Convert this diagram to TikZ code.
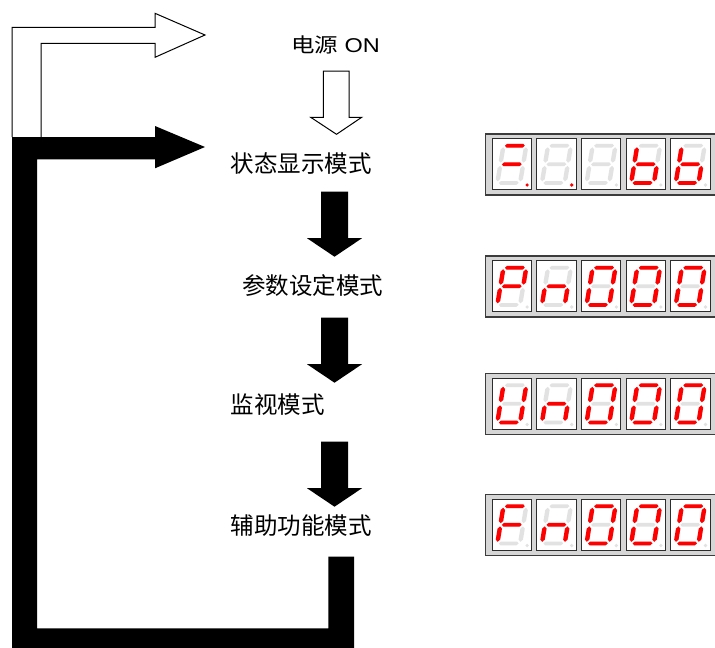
\documentclass[tikz,border=0pt]{standalone}
\usepackage{fontspec}
\newfontfamily\cjk{Noto Sans CJK SC}
\newfontfamily\latf{Liberation Sans}
\definecolor{segoff}{RGB}{226,226,226}
\definecolor{segon}{RGB}{255,0,0}
\definecolor{framefill}{RGB}{214,214,214}
\definecolor{celledge}{RGB}{45,45,45}
\definecolor{frameedge}{RGB}{60,60,60}

% horizontal segment: colour, y
\newcommand\dsegH[2]{\fill[#1] (-9.9,#2) -- (-8,#2-1.9) -- (8,#2-1.9) -- (9.9,#2) -- (8,#2+1.9) -- (-8,#2+1.9) -- cycle;}
% vertical segment: colour, x, y1, y2
\newcommand\dsegV[4]{\fill[#1] (#2,#3+1.6) -- (#2+2.2,#3+3.8) -- (#2+2.2,#4-3.8) -- (#2,#4-1.6) -- (#2-2.2,#4-3.8) -- (#2-2.2,#3+3.8) -- cycle;}
\newcommand\dsega[1]{\dsegH{#1}{-18.6}}
\newcommand\dsegg[1]{\dsegH{#1}{0}}
\newcommand\dsegd[1]{\dsegH{#1}{18.6}}
\newcommand\dsegf[1]{\dsegV{#1}{-11.4}{-18.6}{0}}
\newcommand\dsegb[1]{\dsegV{#1}{11.4}{-18.6}{0}}
\newcommand\dsege[1]{\dsegV{#1}{-11.4}{0}{18.6}}
\newcommand\dsegc[1]{\dsegV{#1}{11.4}{0}{18.6}}
\newcommand\dsegx[1]{}

% #1 x, #2 y of cell top-left, #3 lit segments, #4 dp colour
\newcommand\digcell[4]{%
  \begin{scope}[shift={(#1,#2)}]
    \draw[celledge, line width=0.9pt, fill=white] (0,0) rectangle (39.4,51);
    \begin{scope}[shift={(19.5,25.8)}, xslant=0.165]
      \foreach \s in {a,b,c,d,e,f,g} {\csname dseg\s\endcsname{segoff}}
      \foreach \s in {#3} {\csname dseg\s\endcsname{segon}}
    \end{scope}
    \fill[#4] (34.8,46.5) circle (1.8);
  \end{scope}}

\newcommand\dispframe[1]{%
  \draw[fill=framefill, draw=frameedge, line width=1.4pt] (485.7,#1) rectangle (730,#1+61);
  \draw[frameedge, line width=1.2pt] (485.7,#1+60.8) -- (730,#1+60.8);}

\newcommand\blkdn[2]{\fill[#1] (321,#2) -- (348,#2) -- (348,#2+46.5) -- (362,#2+46.5) -- (334.5,#2+65) -- (307,#2+46.5) -- (321,#2+46.5) -- cycle;}

\tikzset{
  modelabel/.style={font=\cjk\fontsize{23.5}{28}\selectfont, inner sep=0pt, anchor=west},
  whitearrow/.style={draw=black, line width=1pt, fill=white, line join=miter},
  blackarrow/.style={fill=black}
}

\begin{document}
\begin{tikzpicture}[x=1pt, y=-1pt]
\useasboundingbox (0,0) rectangle (715,648);

% white feed-back arrow (top left)
\draw[whitearrow] (41,137) -- (41,43.3) -- (155,43.3) -- (155,57.3) -- (205,35) -- (155,13.3) -- (155,27.3) -- (12,27.3) -- (12,137);

% black loop arrow
\fill[blackarrow] (12,137) -- (155,137) -- (155,126) -- (205,147) -- (155,168.3) -- (155,159.3) -- (37,159.3) -- (37,628.3) -- (328.3,628.3) -- (328.3,556.7) -- (354,556.7) -- (354,648) -- (12,648) -- cycle;

% power on
\node[inner sep=0pt, transform shape, yscale=0.85, font=\fontsize{23.5}{27}\selectfont] (power) at (335.5,45) {\cjk 电源\latf{} ON};
\draw[whitearrow] (323.3,71) -- (349,71) -- (349,117.3) -- (361.7,117.3) -- (336.5,134.3) -- (310.7,117.3) -- (323.3,117.3) -- cycle;

% mode labels
\node[modelabel] (s1) at (230.5,164) {状态显示模式};
\node[modelabel] (s2) at (242,286) {参数设定模式};
\node[modelabel] (s3) at (230.5,405) {监视模式};
\node[modelabel] (s4) at (230.5,526) {辅助功能模式};

% black down arrows
\blkdn{blackarrow}{191.7}
\blkdn{blackarrow}{317.7}
\blkdn{blackarrow}{441.7}

% displays
\dispframe{134}
\digcell{492.3}{138.5}{a,g}{segon}
\digcell{536.9}{138.5}{x}{segon}
\digcell{581.5}{138.5}{x}{segoff}
\digcell{626.1}{138.5}{c,d,e,f,g}{segoff}
\digcell{670.7}{138.5}{c,d,e,f,g}{segoff}

\dispframe{256}
\digcell{492.3}{260.5}{a,b,e,f,g}{segoff}
\digcell{536.9}{260.5}{c,e,g}{segoff}
\digcell{581.5}{260.5}{a,b,c,d,e,f}{segoff}
\digcell{626.1}{260.5}{a,b,c,d,e,f}{segoff}
\digcell{670.7}{260.5}{a,b,c,d,e,f}{segoff}

\dispframe{373.5}
\digcell{492.3}{378}{b,c,d,e,f}{segoff}
\digcell{536.9}{378}{c,e,g}{segoff}
\digcell{581.5}{378}{a,b,c,d,e,f}{segoff}
\digcell{626.1}{378}{a,b,c,d,e,f}{segoff}
\digcell{670.7}{378}{a,b,c,d,e,f}{segoff}

\dispframe{494.5}
\digcell{492.3}{499}{a,e,f,g}{segoff}
\digcell{536.9}{499}{c,e,g}{segoff}
\digcell{581.5}{499}{a,b,c,d,e,f}{segoff}
\digcell{626.1}{499}{a,b,c,d,e,f}{segoff}
\digcell{670.7}{499}{a,b,c,d,e,f}{segoff}
\end{tikzpicture}
\end{document}
